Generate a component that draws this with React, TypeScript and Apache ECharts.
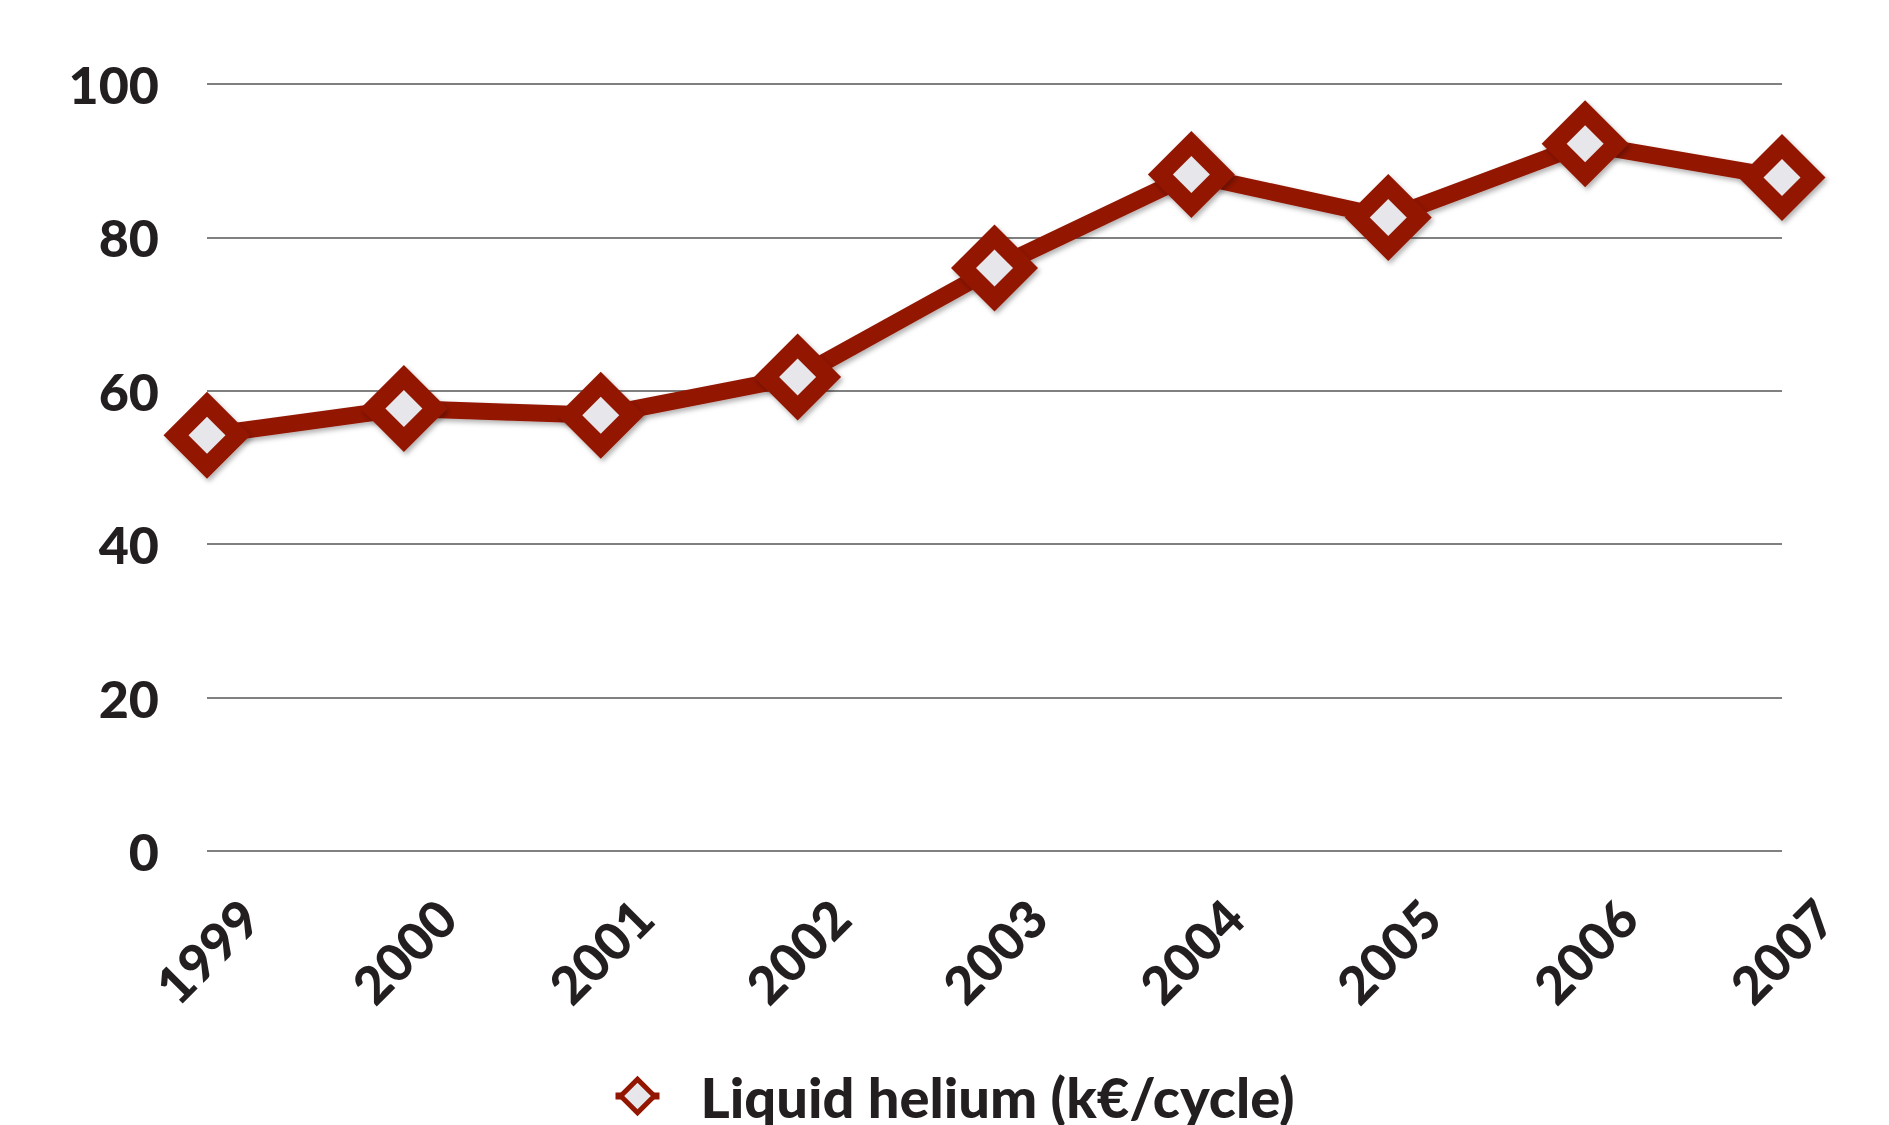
import React, { useEffect, useRef } from "react";
import * as echarts from "echarts";

const years = ["1999", "2000", "2001", "2002", "2003", "2004", "2005", "2006", "2007"];
const heliumCost = [54.2, 57.7, 56.8, 61.8, 76.0, 88.2, 82.6, 92.2, 87.8];
const seriesName = "Liquid helium (k€/cycle)";
const yTicks = { min: 0, max: 100, interval: 20 };

const RED = "#931600";
const FILL = "#e6e6eb";
const TEXT = "#231f20";
const FONT = "Lato";

export default function App() {
  const ref = useRef<HTMLDivElement>(null);
  useEffect(() => {
    if (!ref.current) return;
    const chart = echarts.init(ref.current, null, { renderer: "svg" });
    chart.setOption({
      animation: false,
      backgroundColor: "#ffffff",
      grid: { left: 207, right: 107, top: 84, bottom: 274, containLabel: false },
      xAxis: {
        type: "category",
        data: years,
        boundaryGap: false,
        axisLine: { show: false },
        axisTick: { show: false },
        axisLabel: {
          rotate: 45,
          align: "center",
          verticalAlign: "middle",
          margin: 100,
          color: TEXT,
          fontFamily: FONT,
          fontWeight: 900,
          fontSize: 52,
          interval: 0,
        },
        splitLine: { show: false },
      },
      yAxis: {
        type: "value",
        min: yTicks.min,
        max: yTicks.max,
        interval: yTicks.interval,
        axisLine: { show: false },
        axisTick: { show: false },
        axisLabel: {
          margin: 48,
          color: TEXT,
          fontFamily: FONT,
          fontWeight: 900,
          fontSize: 52,
        },
        splitLine: { show: true, lineStyle: { color: "#808080", width: 2 } },
      },
      legend: {
        show: true,
        left: 612,
        top: 1068,
        padding: 0,
        itemWidth: 44,
        itemHeight: 42,
        data: [seriesName],
        textStyle: {
          color: TEXT,
          fontFamily: FONT,
          fontWeight: 900,
          fontSize: 56,
          padding: [0, 0, 0, 36],
        },
        itemStyle: { borderWidth: 5, color: FILL, borderColor: RED, shadowBlur: 0 },
        lineStyle: { width: 7, color: RED, shadowBlur: 0 },
      },
      series: [
        {
          name: seriesName,
          type: "line",
          data: heliumCost,
          symbol: "diamond",
          symbolSize: 87,
          showSymbol: true,
          lineStyle: {
            color: RED,
            width: 17,
            shadowColor: "rgba(0,0,0,0.3)",
            shadowBlur: 5,
            shadowOffsetX: 2,
            shadowOffsetY: 3,
          },
          itemStyle: {
            color: RED,
            borderWidth: 0,
            shadowColor: "rgba(0,0,0,0.3)",
            shadowBlur: 5,
            shadowOffsetX: 2,
            shadowOffsetY: 3,
          },
          emphasis: { disabled: true },
          z: 3,
        },
        {
          name: "inner",
          type: "line",
          data: heliumCost,
          symbol: "diamond",
          symbolSize: 37,
          showSymbol: true,
          lineStyle: { width: 0, opacity: 0 },
          itemStyle: { color: FILL, borderWidth: 0 },
          emphasis: { disabled: true },
          silent: true,
          z: 4,
        },
      ],
    });
    return () => chart.dispose();
  }, []);
  return (
    <div
      ref={ref}
      style={{ position: "fixed", left: 0, top: 0, width: 1889, height: 1125 }}
    />
  );
}
